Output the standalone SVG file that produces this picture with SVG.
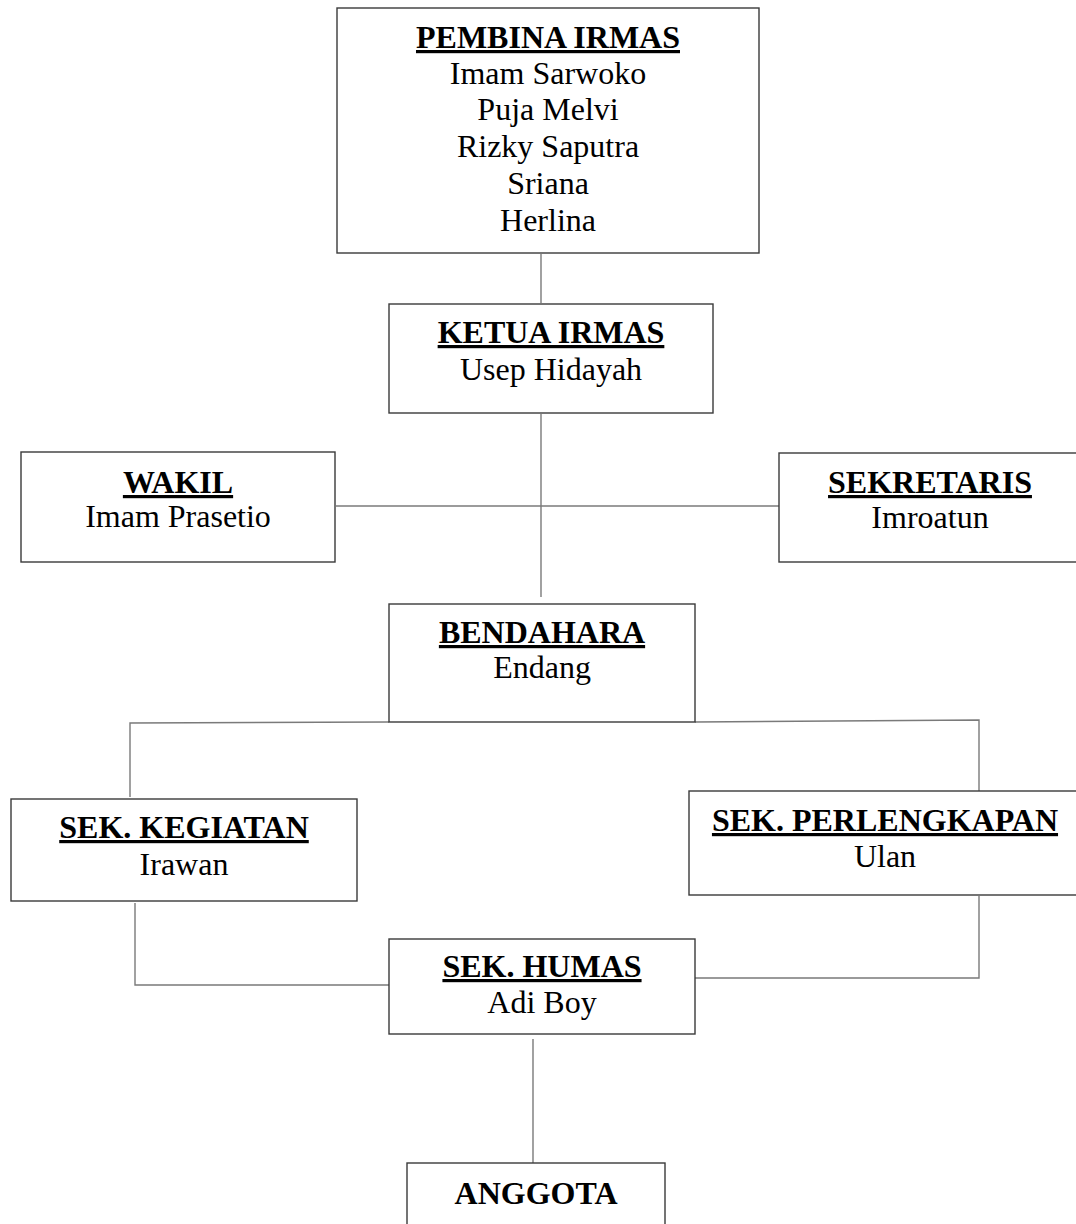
<svg xmlns="http://www.w3.org/2000/svg" width="1076" height="1224" viewBox="0 0 1076 1224">
<style>
.box{fill:#fff;stroke:#3a3a3a;stroke-width:1.4}
.c{fill:none;stroke:#7a7a7a;stroke-width:1.4}
text{font-family:"Liberation Serif","Times New Roman",serif;font-size:32px;fill:#000;text-anchor:middle}
.t{font-weight:bold;text-decoration:underline}
.b{font-weight:bold}
</style>
<rect width="1076" height="1224" fill="#fff"/>
<g id="connectors">
<line class="c" x1="541" y1="254" x2="541" y2="303"/>
<line class="c" x1="541" y1="414" x2="541" y2="597"/>
<line class="c" x1="336" y1="506" x2="779" y2="506"/>
<polyline class="c" points="389,722 130,723 130,797"/>
<polyline class="c" points="695,722 979,720 979,791"/>
<polyline class="c" points="135,903 135,985 389,985"/>
<polyline class="c" points="979,896 979,978 690,978"/>
<line class="c" x1="533" y1="1039" x2="533" y2="1163"/>
</g>
<g id="pembina">
<rect class="box" x="337" y="8" width="422" height="245"/>
<text class="t" x="548" y="48">PEMBINA IRMAS</text>
<text x="548" y="84">Imam Sarwoko</text>
<text x="548" y="120">Puja Melvi</text>
<text x="548" y="157">Rizky Saputra</text>
<text x="548" y="194">Sriana</text>
<text x="548" y="231">Herlina</text>
</g>
<g id="ketua">
<rect class="box" x="389" y="304" width="324" height="109"/>
<text class="t" x="551" y="343">KETUA IRMAS</text>
<text x="551" y="380">Usep Hidayah</text>
</g>
<g id="wakil">
<rect class="box" x="21" y="452" width="314" height="110"/>
<text class="t" x="178" y="493">WAKIL</text>
<text x="178" y="527">Imam Prasetio</text>
</g>
<g id="sekretaris">
<rect class="box" x="779" y="453" width="300" height="109"/>
<text class="t" x="930" y="493">SEKRETARIS</text>
<text x="930" y="528">Imroatun</text>
</g>
<g id="bendahara">
<rect class="box" x="389" y="604" width="306" height="118"/>
<text class="t" x="542" y="643">BENDAHARA</text>
<text x="542" y="678">Endang</text>
</g>
<g id="sek-kegiatan">
<rect class="box" x="11" y="799" width="346" height="102"/>
<text class="t" x="184" y="838">SEK. KEGIATAN</text>
<text x="184" y="875">Irawan</text>
</g>
<g id="sek-perlengkapan">
<rect class="box" x="689" y="791" width="390" height="104"/>
<text class="t" x="885" y="831">SEK. PERLENGKAPAN</text>
<text x="885" y="867">Ulan</text>
</g>
<g id="sek-humas">
<rect class="box" x="389" y="939" width="306" height="95"/>
<text class="t" x="542" y="977">SEK. HUMAS</text>
<text x="542" y="1013">Adi Boy</text>
</g>
<g id="anggota">
<rect class="box" x="407" y="1163" width="258" height="70"/>
<text class="b" x="536" y="1204">ANGGOTA</text>
</g>
</svg>
